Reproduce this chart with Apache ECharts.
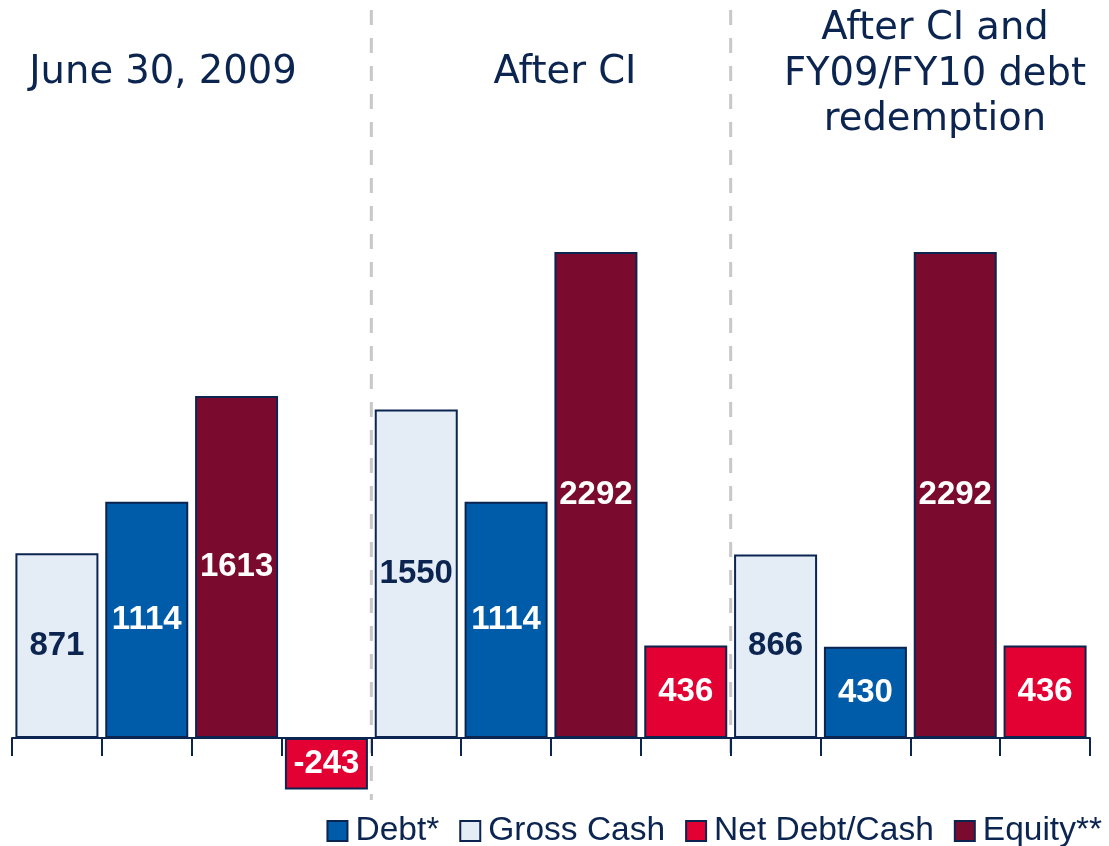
<!DOCTYPE html>
<html>
<head>
<meta charset="utf-8">
<script src="https://cdn.jsdelivr.net/npm/echarts@6/dist/echarts.min.js"></script>
<style>
  html, body { margin: 0; padding: 0; background: #fff; }
  #main { width: 1109px; height: 846px; }
</style>
</head>
<body>
<div id="main"></div>
<script>
// groups shown left to right, and the order of bars inside each group
var groups = ['June 30, 2009', 'After CI', 'After CI and\nFY09/FY10 debt\nredemption'];
var slotOrder = ['Gross Cash', 'Debt*', 'Equity**', 'Net Debt/Cash'];
var legendOrder = ['Debt*', 'Gross Cash', 'Net Debt/Cash', 'Equity**'];

// values per group
var grossCash = [871, 1550, 866];
var debt = [1114, 1114, 430];
var equity = [1613, 2292, 2292];
var netDebt = [-243, 436, 436];

var navy = '#0B2550';
var colors = {
  'Debt*': '#005CA9',
  'Gross Cash': '#E4ECF5',
  'Net Debt/Cash': '#E30033',
  'Equity**': '#7A0A2E'
};
var values = {
  'Debt*': debt,
  'Gross Cash': grossCash,
  'Net Debt/Cash': netDebt,
  'Equity**': equity
};

// one category per bar slot
var cats = [];
groups.forEach(function (g) {
  slotOrder.forEach(function (s) {
    cats.push(g.replace(/\n/g, ' ') + ' - ' + s);
  });
});

function slotData(name) {
  var out = [];
  groups.forEach(function (g, gi) {
    slotOrder.forEach(function (s) {
      out.push(s === name ? values[name][gi] : '-');
    });
  });
  return out;
}

var series = legendOrder.map(function (name) {
  return {
    name: name,
    type: 'bar',
    data: slotData(name),
    barWidth: 83,
    barGap: '-100%',
    itemStyle: { color: colors[name], borderColor: navy, borderWidth: 2 },
    label: {
      show: true,
      position: 'inside',
      fontFamily: 'Liberation Sans',
      fontWeight: 'bold',
      fontSize: 33,
      color: name === 'Gross Cash' ? navy : '#fff'
    }
  };
});

var titleStyle = {
  fontFamily: 'DejaVu Sans',
  fontSize: 38.5,
  fontWeight: 'normal',
  color: navy,
  lineHeight: 45.5
};

var chartDom = document.getElementById('main');
var myChart = echarts.init(chartDom);
var option;

option = {
  animation: false,
  title: [
    { text: groups[0], left: 163, top: 50, textAlign: 'center', padding: 0, textStyle: titleStyle },
    { text: groups[1], left: 565, top: 50, textAlign: 'center', padding: 0, textStyle: titleStyle },
    { text: groups[2], left: 935, top: 6.5, textAlign: 'center', padding: 0, textStyle: titleStyle }
  ],
  legend: {
    data: legendOrder,
    icon: 'rect',
    right: 2,
    top: 809,
    itemWidth: 20,
    itemHeight: 20,
    itemGap: 20,
    textStyle: { fontFamily: 'Liberation Sans', fontSize: 33.5, color: navy, padding: [0, 0, 0, 3] }
  },
  grid: { left: 12, right: 19, top: 208, bottom: 44.4 },
  xAxis: {
    type: 'category',
    data: cats,
    axisLine: { lineStyle: { color: navy, width: 2 } },
    axisTick: { show: true, interval: 0, length: 18, lineStyle: { color: navy, width: 2 } },
    axisLabel: { show: false },
    splitLine: { show: false }
  },
  yAxis: {
    type: 'value',
    min: -300,
    max: 2500,
    show: false
  },
  series: series
};

option && myChart.setOption(option);

// dashed separators between groups
var sepX1 = (myChart.convertToPixel({ xAxisIndex: 0 }, cats[3]) + myChart.convertToPixel({ xAxisIndex: 0 }, cats[4])) / 2;
var sepX2 = (myChart.convertToPixel({ xAxisIndex: 0 }, cats[7]) + myChart.convertToPixel({ xAxisIndex: 0 }, cats[8])) / 2;
var dashStyle = { stroke: '#C8C8C8', lineWidth: 3, lineDash: [15, 13] };
myChart.setOption({
  graphic: [
    { type: 'line', z: -1, shape: { x1: sepX1, y1: 10, x2: sepX1, y2: 800 }, style: dashStyle },
    { type: 'line', z: -1, shape: { x1: sepX2, y1: 10, x2: sepX2, y2: 766 }, style: dashStyle }
  ]
});
</script>
</body>
</html>
